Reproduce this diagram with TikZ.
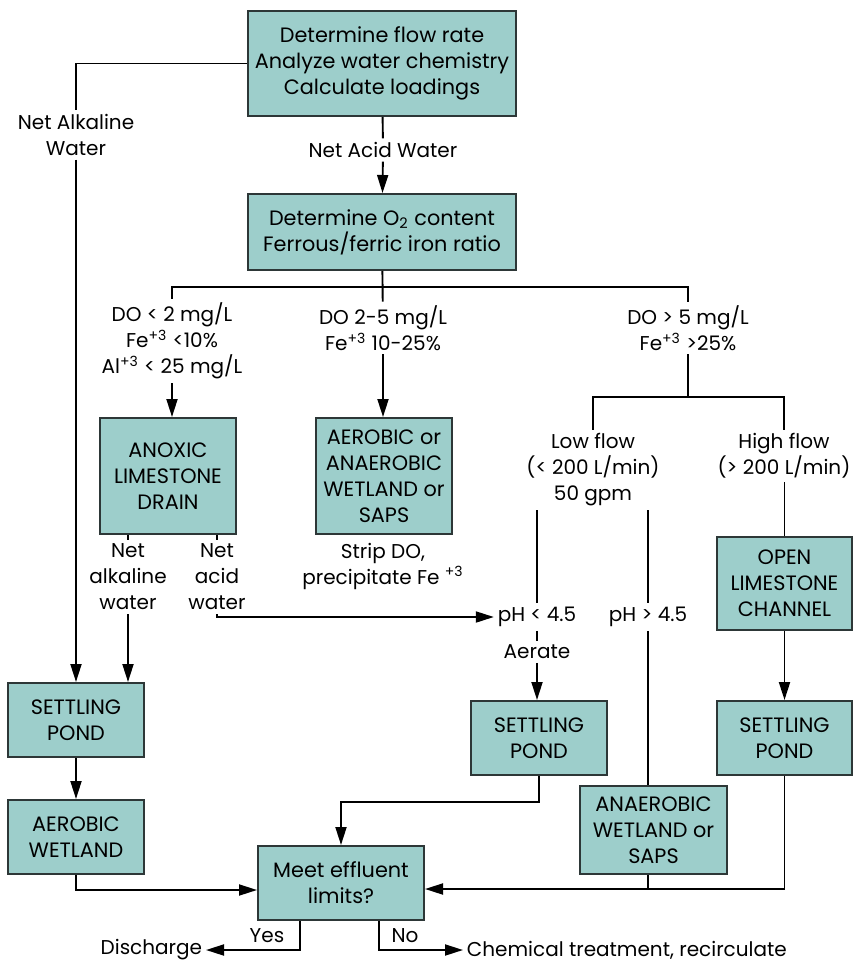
\documentclass[tikz,border=0pt]{standalone}
\usepackage{fontspec}
\setmainfont{Poppins}
\usepackage{tikz}
\usetikzlibrary{calc, positioning, arrows.meta}
\definecolor{boxFill}{RGB}{157, 206, 203}
\definecolor{boxLine}{RGB}{45, 55, 55}

\begin{document}
\begin{tikzpicture}[
  x=0.5pt, y=-0.5pt,
  line width=0.95pt,
  box/.style={draw=boxLine, fill=boxFill, line width=1pt, align=center, inner sep=0pt,
    font=\fontsize{10.4}{13}\selectfont},
  txt/.style={align=center, inner sep=1.5pt, font=\fontsize{10}{13}\selectfont},
  >={Triangle[length=9pt, width=5.5pt]}
]
  \useasboundingbox (0,0) rectangle (858,962);

  % Boxes
  \node[box, minimum width=134pt, minimum height=52.5pt] (top) at (382,63.5)
    {Determine flow rate\\Analyze water chemistry\\Calculate loadings};
  \node[box, minimum width=134pt, minimum height=38pt] (chem) at (382,232)
    {Determine O\textsubscript{2} content\\Ferrous/ferric iron ratio};
  \node[box, minimum width=68pt, minimum height=58pt] (anoxic) at (168,476) {ANOXIC\\LIMESTONE\\DRAIN};
  \node[box, minimum width=68pt, minimum height=58pt] (aerob) at (384,476) {AEROBIC or\\ANAEROBIC\\WETLAND or\\SAPS};
  \node[box, minimum width=67.5pt, minimum height=46.5pt] (olc) at (784.5,583.5) {OPEN\\LIMESTONE\\CHANNEL};
  \node[box, minimum width=67.5pt, minimum height=37pt] (spR) at (784.5,738) {SETTLING\\POND};
  \node[box, minimum width=68pt, minimum height=37pt] (spM) at (539,738) {SETTLING\\POND};
  \node[box, minimum width=73.5pt, minimum height=44pt] (anaer) at (653.5,830) {ANAEROBIC\\WETLAND or\\SAPS};
  \node[box, minimum width=68pt, minimum height=37pt] (spL) at (76,720) {SETTLING\\POND};
  \node[box, minimum width=68pt, minimum height=37pt] (awet) at (76,837) {AEROBIC\\WETLAND};
  \node[box, minimum width=83pt, minimum height=37pt] (meet) at (341,883) {Meet effluent\\limits?};

  % Labels
  \node[txt] (alk) at (76,135) {Net Alkaline\\Water};
  \node[txt] (acid) at (383,150) {Net Acid Water};
  \node[txt] (do1) at (172,341) {DO < 2 mg/L\\Fe\textsuperscript{+3} <10\%\\Al\textsuperscript{+3} < 25 mg/L};
  \node[txt] (do2) at (383,328) {DO 2-5 mg/L\\Fe\textsuperscript{+3} 10-25\%};
  \node[txt] (do3) at (688,328) {DO > 5 mg/L\\Fe\textsuperscript{+3} >25\%};
  \node[txt] (strip) at (383,566) {Strip DO,\\precipitate Fe \textsuperscript{+3}};
  \node[txt] (low) at (593,470) {Low flow\\(< 200 L/min)\\50 gpm};
  \node[txt] (high) at (784,456) {High flow\\(> 200 L/min)};
  \node[txt] (nalk) at (128,577) {Net\\alkaline\\water};
  \node[txt] (nacid) at (217,577) {Net\\acid\\water};
  \node[txt] (phlo) at (537,617) {pH < 4.5};
  \node[txt] (phhi) at (648,617) {pH > 4.5};
  \node[txt] (aerate) at (537,652) {Aerate};
  \node[txt] (yes) at (267,936) {Yes};
  \node[txt] (no) at (405,936) {No};
  \node[txt, anchor=east] (disch) at (206,950) {Discharge};
  \node[txt, anchor=west] (recirc) at (463,950) {Chemical treatment, recirculate};

  \coordinate (br) at (382,287);
  \coordinate (fl) at (688,397);

  % Connectors
  \draw (top.west) -| (alk.north);
  \draw[->] (alk.south) -- (alk.south |- spL.north);
  \draw (top) -- (acid);
  \draw[->] (acid) -- (chem);
  \draw (chem) -- (do2);
  \draw (do1.north) |- (br) -| (do3.north);
  \draw[->] (do1.south) -- (do1.south |- anoxic.north);
  \draw[->] (do2.south) -- (do2.south |- aerob.north);
  \draw (do3) -- (fl);
  \draw (low.north) |- (fl) -| (high.north);
  \draw (olc.north |- high.south) -- (olc.north);
  \draw[->] (olc) -- (spR);
  \draw (low.south -| phlo) -- (phlo);
  \draw (phlo) -- (aerate);
  \draw[->] (aerate.south) -- (aerate.south |- spM.north);
  \draw (low.south -| phhi) -- (phhi);
  \draw (phhi) -- (phhi |- anaer.north);
  \draw (anoxic.south -| nalk.north) -- (nalk.north);
  \draw[->] (nalk.south) -- (nalk.south |- spL.north);
  \draw (anoxic.south -| nacid.north) -- (nacid.north);
  \draw[->] (nacid.south) |- (phlo.west);
  \draw[->] (spL) -- (awet);
  \draw[->] (awet.south) |- ([yshift=-3.5pt]meet.west);
  \draw[->] (spM.south) -- ++(0,26) -| (meet.north);
  \draw[->] (spR.south) |- ([yshift=-3pt]meet.east);
  \draw (phhi |- anaer.south) -- ++(0,15);
  \draw[->] ([xshift=-20.5pt]meet.south) |- (disch.east);
  \draw[->] ([xshift=19pt]meet.south) |- (recirc.west);
\end{tikzpicture}
\end{document}
